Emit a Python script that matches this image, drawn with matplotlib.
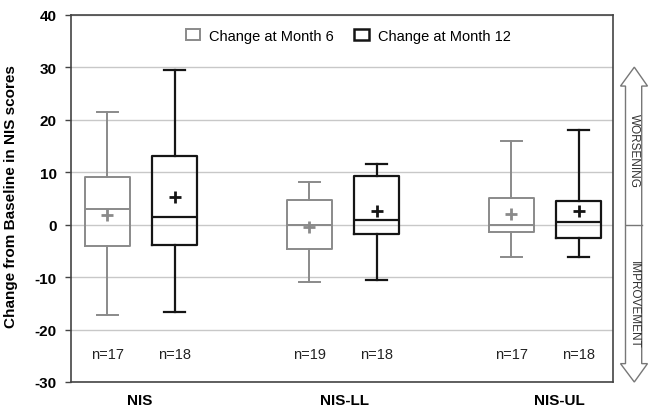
import matplotlib
matplotlib.use("Agg")
import matplotlib.pyplot as plt
from matplotlib.patches import Patch, Polygon

plt.rcParams['font.family'] = ['Liberation Sans', 'DejaVu Sans']

categories = ['NIS', 'NIS-LL', 'NIS-UL']
series_labels = ['Change at Month 6', 'Change at Month 12']

m6_whislo = [-17.2, -11.0, -6.1]
m6_q1 = [-4.1, -4.6, -1.5]
m6_med = [3.0, 0.0, -0.1]
m6_q3 = [9.0, 4.6, 5.0]
m6_whishi = [21.4, 8.1, 16.0]
m6_mean = [1.8, -0.4, 2.0]
m6_n = [17, 19, 17]

m12_whislo = [-16.6, -10.6, -6.1]
m12_q1 = [-3.9, -1.7, -2.5]
m12_med = [1.4, 0.8, 0.4]
m12_q3 = [13.1, 9.3, 4.5]
m12_whishi = [29.5, 11.6, 18.0]
m12_mean = [5.2, 2.6, 2.5]
m12_n = [18, 18, 18]

yticks = [-30, -20, -10, 0, 10, 20, 30, 40]

fig = plt.figure(figsize=(6.49, 4.10), dpi=100)
ax = fig.add_axes([70.5 / 649, 1 - 383 / 410, 542.2 / 649, 367.3 / 410])

def stats(lo, q1, med, q3, hi, mean):
    return [dict(whislo=a, q1=b, med=c, q3=d, whishi=e, mean=f, fliers=[])
            for a, b, c, d, e, f in zip(lo, q1, med, q3, hi, mean)]

off = 0.167
bw = 0.222
series = [
    (stats(m6_whislo, m6_q1, m6_med, m6_q3, m6_whishi, m6_mean), -off, '#8a8a8a', 1.4, m6_n),
    (stats(m12_whislo, m12_q1, m12_med, m12_q3, m12_whishi, m12_mean), off, '#151515', 1.6, m12_n),
]
for st, dx, col, lw, ns in series:
    pos = [i + dx for i in range(len(categories))]
    ax.bxp(st, positions=pos, widths=bw, showmeans=True, showfliers=False,
           capwidths=0.105, manage_ticks=False,
           boxprops=dict(color=col, linewidth=lw),
           whiskerprops=dict(color=col, linewidth=lw),
           capprops=dict(color=col, linewidth=lw),
           medianprops=dict(color=col, linewidth=lw),
           meanprops=dict(marker='+', markeredgecolor=col, markersize=8, markeredgewidth=2.0))
    for p, n in zip(pos, ns):
        ax.text(p, -24.7, f'n={n}', ha='center', va='center', fontsize=10.5, color='#222222')

ax.set_xlim(-0.349, 2.336)
ax.set_ylim(-30, 40)
ax.set_yticks(yticks)
ax.set_yticklabels([str(v) for v in yticks], fontweight='bold', fontsize=11)
ax.set_xticks([-0.005, 1.01, 2.07])
ax.set_xticklabels(categories, fontweight='bold', fontsize=11)
ax.tick_params(axis='x', length=0, pad=8)
ax.tick_params(axis='y', length=4, width=1, color='#444444', pad=6)
ax.grid(axis='y', color='#c8c8c8', linewidth=1)
ax.set_axisbelow(True)
for s in ax.spines.values():
    s.set_color('#444444')
    s.set_linewidth(1.2)

ax.set_ylabel('Change from Baseline in NIS scores', fontweight='bold', fontsize=11)
ax.yaxis.set_label_coords(-0.097, 0.508)

handles = [Patch(facecolor='white', edgecolor='#8a8a8a', linewidth=1.4),
           Patch(facecolor='white', edgecolor='#151515', linewidth=1.8)]
ax.legend(handles, series_labels, loc='center', bbox_to_anchor=(0.512, 0.943),
          ncol=2, frameon=False, fontsize=10.5, handlelength=1.0, handleheight=0.8,
          handletextpad=0.6, columnspacing=1.4)

# side arrow
aax = fig.add_axes([618 / 649, 1 - 383 / 410, 31 / 649, 367.3 / 410])
aax.set_xlim(618, 649)
aax.set_ylim(-30, 40)
aax.axis('off')
pts = [(634.3, 30), (647.5, 26.4), (641.7, 26.4), (641.7, -26.5), (647.5, -26.5),
       (634.3, -30), (620.5, -26.5), (625.5, -26.5), (625.5, 26.4), (620.5, 26.4)]
aax.add_patch(Polygon(pts, closed=True, facecolor='white', edgecolor='#777777',
                      linewidth=1.0, clip_on=False))
aax.plot([625.5, 641.7], [0, 0], color='#777777', linewidth=1.0, clip_on=False)
aax.text(633.6, 14.2, 'WORSENING', rotation=-90, ha='center', va='center',
         fontsize=8.5, color='#333333')
aax.text(633.6, -15.1, 'IMPROVEMENT', rotation=-90, ha='center', va='center',
         fontsize=8.5, color='#333333')

fig.savefig('out.png', dpi=100)
